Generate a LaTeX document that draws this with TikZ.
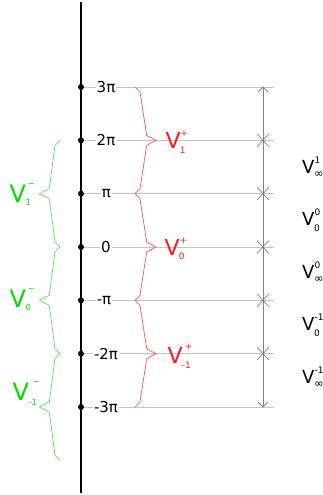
\documentclass[tikz,border=0pt]{standalone}
\usepackage{fontspec}
\setmainfont{DejaVu Sans}
\usetikzlibrary{shapes.misc}
\definecolor{gridgray}{HTML}{C4C4C4}
\definecolor{arrgray}{HTML}{808080}
\definecolor{bred}{HTML}{FF1A1A}
\definecolor{bgreen}{HTML}{00DD00}
% #1 V size, #2 script size, #3 sub, #4 sup, #5 sub drop, #6 sup rise, #7 sub kern, #8 sup kern
\newcommand\Vlab[8]{{\fontsize{#1}{#1}\selectfont V}{\fontsize{#2}{#2}\selectfont\rlap{\kern#7\raisebox{-#5}{#3}}\rlap{\kern#8\raisebox{#6}{#4}}}}
\newcommand\infsym{{\fontsize{11.5pt}{11.5pt}\selectfont ∞}}
\tikzset{
  axisline/.style={line width=2.5pt, black},
  gridline/.style={gridgray, line width=0.8pt},
  arrline/.style={arrgray, line width=0.9pt},
  dotnode/.style={circle, fill=black, inner sep=0pt, minimum size=6pt},
  ticklab/.style={font=\fontsize{15}{15}\selectfont, fill=white, inner sep=1pt},
  xmark/.style={cross out, draw=arrgray, line width=0.7pt, minimum width=11pt, minimum height=12pt, inner sep=0pt},
  vlab/.style={anchor=base west, inner sep=0pt},
  redbrace/.style={bred!75, line width=0.7pt, line join=miter},
  greenbrace/.style={bgreen!70, line width=0.7pt, line join=miter}
}
\begin{document}
\begin{tikzpicture}[x=1pt,y=-1pt]
\useasboundingbox (0,0) rectangle (323,495);
% axis
\coordinate (axtop) at (81,2);
\coordinate (axbot) at (81,493);
\draw[axisline] (axtop) -- (axbot);
% levels
\foreach \n/\y/\x/\t in {a/87/106/3π, b/140.33/106/2π, c/193.67/106.5/π, d/247/106/0, e/300.33/104/-π, f/353.67/106/-2π, g/407/106/-3π} {
  \coordinate (end\n) at (274,\y);
  \coordinate (st\n) at (81,\y);
  \draw[gridline] (st\n) -- (end\n);
  \node[ticklab] (lab\n) at (\x,\y) {\t};
  \node[dotnode] (dot\n) at (81,\y) {};
}
% double arrow
\coordinate (arrtop) at (263,87);
\coordinate (arrbot) at (263,407);
\draw[arrline] (arrtop) -- (arrbot);
\draw[arrline] (arrtop) ++(-5,5) -- (arrtop) -- ++(5,5);
\draw[arrline] (arrbot) ++(-5,-5) -- (arrbot) -- ++(5,-5);
\foreach \n/\y in {b/140.33, c/193.67, d/247, e/300.33, f/353.67}
  \node[xmark] (x\n) at (263,\y) {};
% red braces
\foreach \yt/\ym/\yb in {87/140.33/193.67, 193.67/247/300.33, 300.33/353.67/407}
  \draw[redbrace] (135,\yt) -- (140,{\yt+5}) -- (146.7,{\ym-5}) -- (156,\ym) -- (146.7,{\ym+5}) -- (140,{\yb-5}) -- (135,\yb);
% green braces
\foreach \yt/\ym/\yb in {140.33/193.67/247, 247/300.33/353.67, 353.67/407/460.33}
  \draw[greenbrace] (60,\yt) -- (55,{\yt+5}) -- (49.3,{\ym-5}) -- (39.3,\ym) -- (49.3,{\ym+5}) -- (55,{\yb-5}) -- (60,\yb);
% red labels
\node[vlab, text=bred] (vp1) at (165.5,148) {\Vlab{22pt}{9pt}{1}{+}{5pt}{11.3pt}{-1pt}{-0.5pt}};
\node[vlab, text=bred] (vp0) at (164.5,255) {\Vlab{22pt}{9pt}{0}{+}{4pt}{11.8pt}{-1pt}{0pt}};
\node[vlab, text=bred] (vpm) at (167.5,363) {\Vlab{22pt}{9pt}{-1}{+}{5pt}{13.3pt}{-1pt}{2pt}};
% green labels
\node[vlab, text=bgreen] (vm1) at (9.5,202) {\Vlab{24pt}{8.5pt}{1}{−}{3pt}{15.3pt}{-0.5pt}{1.5pt}};
\node[vlab, text=bgreen] (vm0) at (9.5,307) {\Vlab{24pt}{8.5pt}{0}{−}{3pt}{15.3pt}{-0.5pt}{1.5pt}};
\node[vlab, text=bgreen] (vmm) at (12.5,400) {\Vlab{24pt}{8.5pt}{-1}{−}{5pt}{15.3pt}{-0.5pt}{4pt}};
% right labels
\node[vlab] (r1) at (302,173) {\Vlab{18pt}{9pt}{\infsym}{1}{4pt}{10pt}{-0.5pt}{0pt}};
\node[vlab] (r2) at (302,225) {\Vlab{18pt}{9pt}{0}{0}{6pt}{10pt}{-0.5pt}{0pt}};
\node[vlab] (r3) at (302,278) {\Vlab{18pt}{9pt}{\infsym}{0}{4pt}{10pt}{-0.5pt}{0pt}};
\node[vlab] (r4) at (302,330) {\Vlab{18pt}{9pt}{0}{-1}{6pt}{10pt}{-0.5pt}{0pt}};
\node[vlab] (r5) at (302,383) {\Vlab{18pt}{9pt}{\infsym}{-1}{4pt}{10pt}{-0.5pt}{0pt}};
\end{tikzpicture}
\end{document}
